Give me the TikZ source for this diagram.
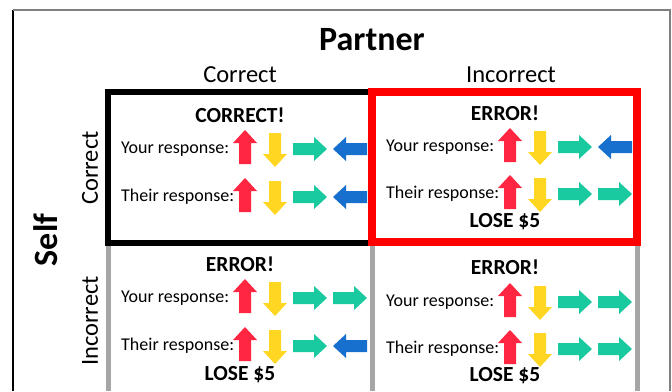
\documentclass[tikz,border=0pt]{standalone}
\usepackage{fontspec}
\setmainfont{Carlito}
\usetikzlibrary{positioning}

\definecolor{arrRed}{RGB}{255,38,66}
\definecolor{arrYellow}{RGB}{255,214,34}
\definecolor{arrTeal}{RGB}{25,201,160}
\definecolor{arrBlue}{RGB}{24,112,206}
\definecolor{boxRed}{RGB}{255,0,0}
\definecolor{cellGray}{RGB}{166,166,166}
\definecolor{frameGray}{RGB}{128,128,128}

\tikzset{
  blockarr/.pic={\fill (-17,-6) -- (4,-6) -- (4,-12) -- (17,0) -- (4,12) -- (4,6) -- (-17,6) -- cycle;},
  goup/.style={fill=arrRed, rotate=90},
  godown/.style={fill=arrYellow, rotate=-90},
  goright/.style={fill=arrTeal},
  goleft/.style={fill=arrBlue, rotate=180},
  resp/.style={anchor=west, inner sep=0pt, font=\fontsize{18}{20}\selectfont},
  verdict/.style={inner sep=0pt, font=\fontsize{21.5}{24}\selectfont\bfseries},
  colhead/.style={inner sep=0pt, font=\fontsize{24.5}{28}\selectfont},
  bighead/.style={inner sep=0pt, font=\fontsize{34}{38}\selectfont\bfseries},
}

\begin{document}
\begin{tikzpicture}[x=1pt, y=-1pt]
            \useasboundingbox (0,0) rectangle (672,391);
            % frame
            \draw[black, line width=1.5] (13,391) -- (13,10);
            \draw[frameGray, line width=1.5] (13,10) -- (670,10) -- (670,391);

            % cells
            \draw[cellGray, line width=5] (108,243) -- (108,391);
            \draw[cellGray, line width=5] (372,243) -- (372,391);
            \draw[cellGray, line width=5] (637,243) -- (637,391);
            \draw[black, line width=6] (108,92) rectangle (372,243);
            \draw[boxRed, line width=8] (372,92) rectangle (637,242);

            % headings
            \node[bighead] (partner) at (372,40) {Partner};
            \node[colhead] (colC) at (240,75) {Correct};
            \node[colhead] (colI) at (511,75) {Incorrect};
            \node[bighead, rotate=90] (self) at (46,240) {Self};
            \node[colhead, rotate=90] (rowC) at (90,168) {Correct};
            \node[colhead, rotate=90] (rowI) at (90,321) {Incorrect};

            \node[verdict] (v1) at (240,115) {CORRECT!};
            \node[verdict] (v2) at (505,113) {ERROR!};
            \node[verdict] (v3) at (240,264) {ERROR!};
            \node[verdict] (v4) at (505,267) {ERROR!};
            \node[verdict] (lose2) at (505,222) {LOSE \$5};
            \node[verdict] (lose3) at (240,375) {LOSE \$5};
            \node[verdict] (lose4) at (505,376) {LOSE \$5};

            % response rows
            \foreach \lx/\ry/\lab/\fourth [count=\i] in {
                121/149/Your/goleft, 121/197/Their/goleft,
                386/147/Your/goleft, 386/194/Their/goright,
                121/298/Your/goright, 121/346/Their/goleft,
                386/302/Your/goright, 386/349/Their/goright}
            {
                \node[resp] (lab\i) at (\lx,\ry) {\lab\ response:};
                \pic[goup] (up\i) at ({\lx+124},{\ry-2}) {blockarr};
                \pic[godown] (down\i) at ({\lx+154},{\ry+1}) {blockarr};
                \pic[goright] (right\i) at ({\lx+189},\ry) {blockarr};
                \pic[\fourth] (last\i) at ({\lx+229},\ry) {blockarr};
            }
        \end{tikzpicture}
\end{document}
